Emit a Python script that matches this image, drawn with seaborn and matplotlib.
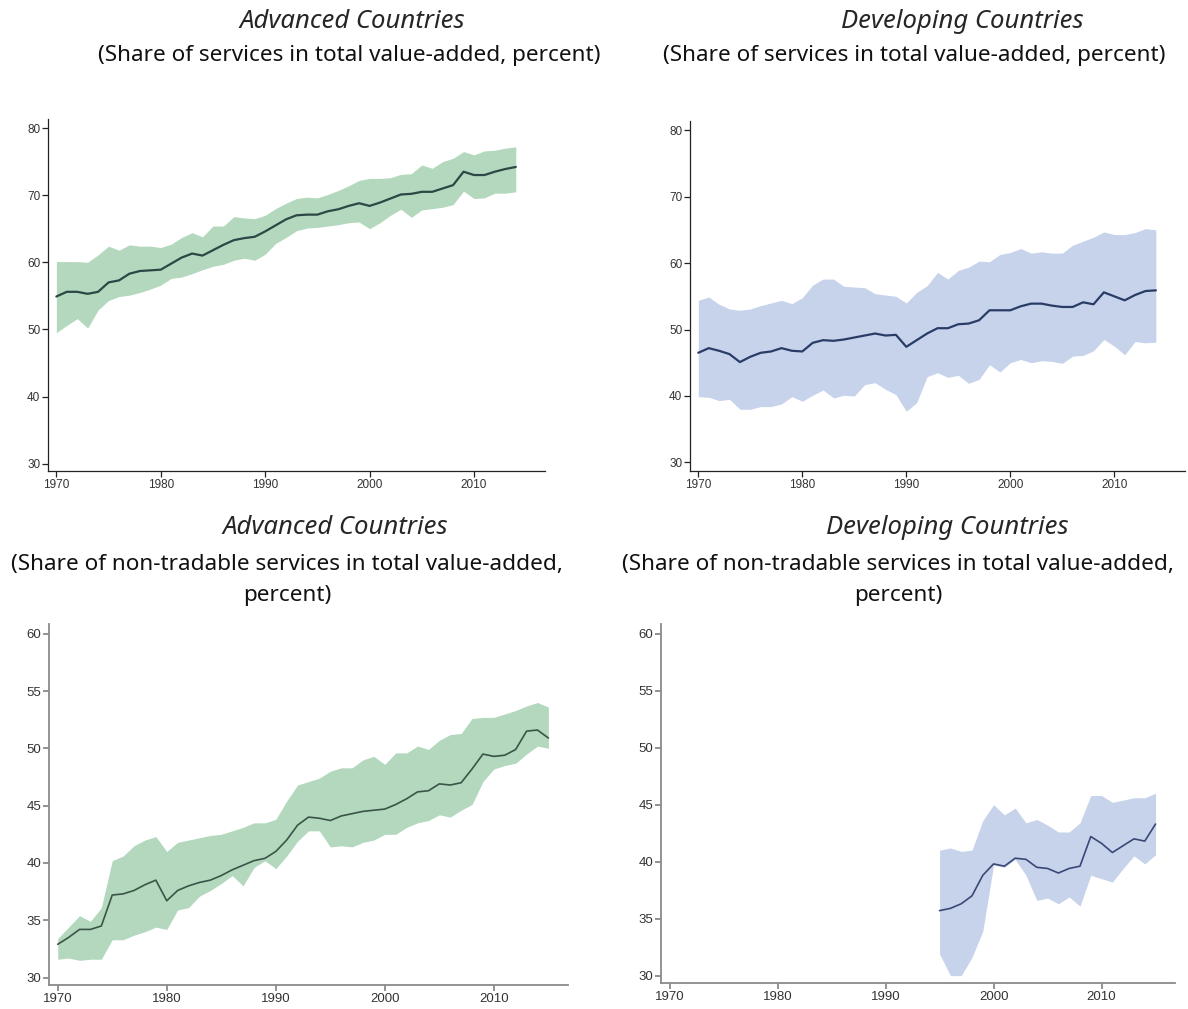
import numpy as np
import pandas as pd
import seaborn as sns
import matplotlib.pyplot as plt

# Datos (mediana y banda intercuartil)
years_a = list(range(1970, 2015))
adv_mid = [54.9, 55.6, 55.6, 55.3, 55.6, 57.0, 57.3, 58.3, 58.7, 58.8,
           58.9, 59.8, 60.7, 61.3, 61.0, 61.8, 62.6, 63.3, 63.6, 63.8,
           64.6, 65.5, 66.4, 67.0, 67.1, 67.1, 67.6, 67.9, 68.4, 68.8,
           68.4, 68.9, 69.5, 70.1, 70.2, 70.5, 70.5, 71.0, 71.5, 73.5,
           73.0, 73.0, 73.5, 73.9, 74.2]
adv_hi = [60.1, 60.1, 60.1, 60.0, 61.1, 62.4, 61.8, 62.6, 62.4, 62.4,
          62.2, 62.7, 63.7, 64.4, 63.8, 65.4, 65.4, 66.8, 66.6, 66.5,
          67.0, 68.0, 68.8, 69.5, 69.7, 69.6, 70.1, 70.7, 71.4, 72.2,
          72.5, 72.5, 72.6, 73.1, 73.2, 74.5, 74.0, 75.0, 75.5, 76.5,
          76.0, 76.6, 76.7, 77.0, 77.2]
adv_lo = [49.5, 50.6, 51.6, 50.2, 52.9, 54.3, 54.9, 55.1, 55.5, 56.0,
          56.6, 57.6, 57.8, 58.3, 58.9, 59.4, 59.7, 60.3, 60.6, 60.3,
          61.2, 62.8, 63.7, 64.7, 65.1, 65.2, 65.4, 65.6, 65.9, 66.0,
          65.0, 65.9, 67.0, 67.9, 66.7, 67.8, 68.0, 68.2, 68.6, 70.6,
          69.5, 69.6, 70.3, 70.3, 70.5]

dev_mid = [46.5, 47.2, 46.8, 46.3, 45.1, 45.9, 46.5, 46.7, 47.2, 46.8,
           46.7, 48.0, 48.4, 48.3, 48.5, 48.8, 49.1, 49.4, 49.1, 49.2,
           47.4, 48.4, 49.4, 50.2, 50.2, 50.8, 50.9, 51.4, 52.9, 52.9,
           52.9, 53.5, 53.9, 53.9, 53.6, 53.4, 53.4, 54.1, 53.8, 55.6,
           55.0, 54.4, 55.2, 55.8, 55.9]
dev_hi = [54.4, 54.9, 53.8, 53.1, 52.9, 53.1, 53.6, 54.0, 54.4, 53.9,
          54.8, 56.7, 57.6, 57.6, 56.5, 56.4, 56.3, 55.4, 55.2, 55.0,
          54.0, 55.6, 56.6, 58.6, 57.6, 58.9, 59.4, 60.3, 60.2, 61.3,
          61.6, 62.2, 61.5, 61.7, 61.5, 61.5, 62.7, 63.3, 63.9, 64.7,
          64.3, 64.3, 64.6, 65.2, 65.0]
dev_lo = [39.9, 39.8, 39.3, 39.5, 38.0, 38.0, 38.4, 38.4, 38.8, 39.9,
          39.2, 40.1, 40.9, 39.7, 40.1, 40.0, 41.7, 42.0, 41.0, 40.2,
          37.7, 39.0, 42.9, 43.5, 42.8, 43.1, 41.9, 42.5, 44.7, 43.6,
          45.0, 45.5, 45.0, 45.3, 45.2, 44.9, 46.0, 46.1, 46.8, 48.5,
          47.5, 46.2, 48.2, 48.0, 48.1]

years_nt = list(range(1970, 2016))
adv_nt_mid = [32.9, 33.5, 34.2, 34.2, 34.5, 37.2, 37.3, 37.6, 38.1, 38.5,
              36.7, 37.6, 38.0, 38.3, 38.5, 38.9, 39.4, 39.8, 40.2, 40.4,
              41.0, 42.0, 43.3, 44.0, 43.9, 43.7, 44.1, 44.3, 44.5, 44.6,
              44.7, 45.1, 45.6, 46.2, 46.3, 46.9, 46.8, 47.0, 48.2, 49.5,
              49.3, 49.4, 49.9, 51.5, 51.6, 50.9]
adv_nt_hi = [33.4, 34.4, 35.4, 34.9, 36.1, 40.2, 40.6, 41.5, 42.0, 42.3,
             41.0, 41.8, 42.0, 42.2, 42.4, 42.5, 42.8, 43.1, 43.5, 43.5,
             43.8, 45.4, 46.8, 47.1, 47.4, 48.0, 48.3, 48.3, 49.0, 49.3,
             48.6, 49.6, 49.6, 50.2, 49.9, 50.7, 51.2, 51.3, 52.6, 52.7,
             52.7, 53.0, 53.3, 53.7, 54.0, 53.6]
adv_nt_lo = [31.6, 31.7, 31.5, 31.6, 31.6, 33.3, 33.3, 33.7, 34.0, 34.4,
             34.2, 35.9, 36.1, 37.1, 37.6, 38.2, 38.9, 38.0, 39.6, 40.2,
             39.5, 40.6, 41.9, 42.8, 42.8, 41.4, 41.5, 41.4, 41.8, 42.0,
             42.5, 42.5, 43.1, 43.5, 43.7, 44.2, 44.0, 44.6, 45.1, 47.1,
             48.2, 48.5, 48.7, 49.5, 50.2, 50.0]

years_dnt = list(range(1995, 2016))
dev_nt_mid = [35.7, 35.9, 36.3, 37.0, 38.8, 39.8, 39.6, 40.3, 40.2, 39.5,
              39.4, 39.0, 39.4, 39.6, 42.2, 41.6, 40.8, 41.4, 42.0, 41.8, 43.3]
dev_nt_hi = [41.0, 41.2, 40.9, 41.0, 43.6, 45.0, 44.1, 44.7, 43.4, 43.7,
             43.2, 42.6, 42.6, 43.4, 45.8, 45.8, 45.2, 45.4, 45.6, 45.6, 46.0]
dev_nt_lo = [31.9, 30.0, 30.0, 31.6, 33.9, 39.7, 39.5, 40.2, 38.8, 36.6,
             36.8, 36.3, 36.9, 36.1, 38.8, 38.5, 38.2, 39.4, 40.5, 39.8, 40.6]

titulos = ['Advanced Countries', 'Developing Countries']
sub_total = '(Share of services in total value-added, percent)'
sub_nt = '(Share of non-tradable services in total value-added,\npercent)'

VERDE_BANDA = '#b3d8bd'
AZUL_BANDA = '#c6d3eb'

sns.set_style('ticks')
plt.rcParams['font.family'] = ['Liberation Sans', 'DejaVu Sans']

W, H = 1188, 1009
fig = plt.figure(figsize=(W / 100, H / 100), dpi=100)


def caja(l, t, r, b):
    return [l / W, 1 - b / H, (r - l) / W, (b - t) / H]


paneles = [
    (caja(48, 119, 545, 471), years_a, adv_mid, adv_lo, adv_hi, VERDE_BANDA, '#2c4746', (28.9, 81.35), [30, 40, 50, 60, 70, 80], 'top'),
    (caja(690, 121, 1185, 471), years_a, dev_mid, dev_lo, dev_hi, AZUL_BANDA, '#283c66', (28.7, 81.4), [30, 40, 50, 60, 70, 80], 'top'),
    (caja(49, 624, 568, 985), years_nt, adv_nt_mid, adv_nt_lo, adv_nt_hi, VERDE_BANDA, '#3a5548', (29.35, 60.85), [30, 35, 40, 45, 50, 55, 60], 'bottom'),
    (caja(661, 624, 1175, 983), years_dnt, dev_nt_mid, dev_nt_lo, dev_nt_hi, AZUL_BANDA, '#3b4877', (29.35, 60.85), [30, 35, 40, 45, 50, 55, 60], 'bottom'),
]

for pos, yrs, mid, lo, hi, banda, linea, ylim, yticks, fila in paneles:
    ax = fig.add_axes(pos)
    df = pd.DataFrame({'year': yrs, 'mid': mid, 'lo': lo, 'hi': hi})
    ax.fill_between(df['year'], df['lo'], df['hi'], color=banda, lw=0)
    sns.lineplot(data=df, x='year', y='mid', ax=ax, color=linea,
                 lw=1.6 if fila == 'top' else 1.2)
    ax.set_xlim(1969.2, 2016.8)
    ax.set_ylim(*ylim)
    ax.set_xticks([1970, 1980, 1990, 2000, 2010])
    ax.set_yticks(yticks)
    ax.set_xlabel('')
    ax.set_ylabel('')
    sns.despine(ax=ax)
    if fila == 'top':
        col_spine, lw_spine, fs = '#222222', 0.9, 8.5
    else:
        col_spine, lw_spine, fs = '#8a8a8a', 1.3, 9.5
    for s in ['left', 'bottom']:
        ax.spines[s].set_color(col_spine)
        ax.spines[s].set_linewidth(lw_spine)
    ax.tick_params(length=4, width=lw_spine, color=col_spine,
                   labelsize=fs, labelcolor='#333333', pad=1.5)

fuente = ['Noto Sans', 'DejaVu Sans']
kw_t = dict(ha='center', va='center', fontsize=18.5, style='italic', family=fuente)
kw_s = dict(ha='center', va='center', fontsize=16.2, family=fuente, color='#111111')

fig.text(352 / W, 1 - 22 / H, titulos[0], **kw_t)
fig.text(349 / W, 1 - 55 / H, sub_total, **kw_s)
fig.text(962 / W, 1 - 22 / H, titulos[1], **kw_t)
fig.text(914 / W, 1 - 55 / H, sub_total, **kw_s)

fig.text(335 / W, 1 - 528 / H, titulos[0], **kw_t)
fig.text(287 / W, 1 - 580 / H, sub_nt, linespacing=1.62, **kw_s)
fig.text(947 / W, 1 - 528 / H, titulos[1], **kw_t)
fig.text(898 / W, 1 - 580 / H, sub_nt, linespacing=1.62, **kw_s)

fig.savefig('out.png', dpi=100)
